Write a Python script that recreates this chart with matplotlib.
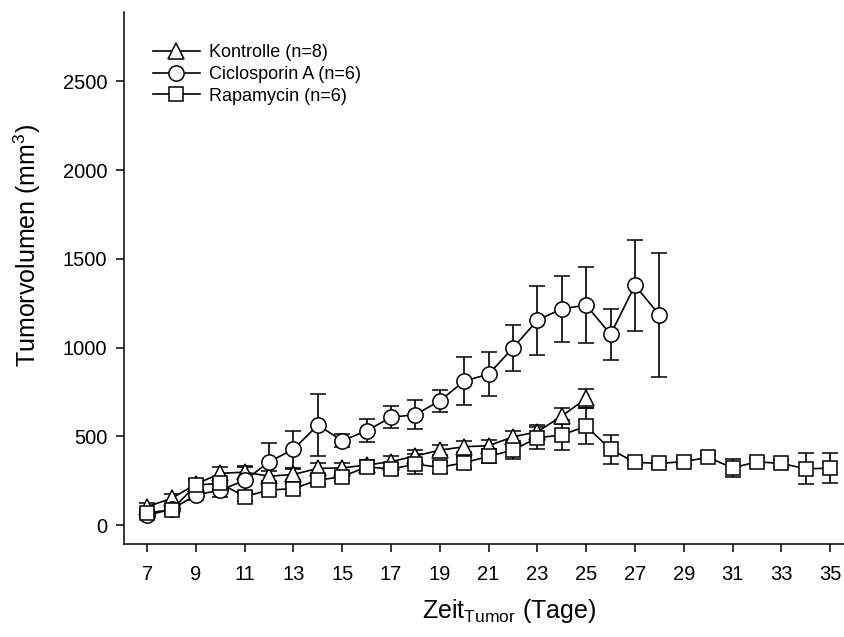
import numpy as np
import matplotlib
matplotlib.use("Agg")
import matplotlib.pyplot as plt

plt.rcParams['font.family'] = ['Liberation Sans', 'DejaVu Sans']

# --- Daten ---
tage_kontrolle = list(range(7, 26))
kontrolle = [103, 150, 230, 291, 298, 275, 285, 319, 322, 338, 357, 389, 422, 441, 447, 497, 525, 614, 713]
kontrolle_err = [20, 25, 30, 38, 35, 30, 30, 32, 30, 30, 30, 35, 30, 30, 30, 35, 40, 45, 55]

tage_csa = list(range(7, 29))
csa = [56, 88, 169, 197, 251, 356, 427, 563, 475, 531, 607, 622, 700, 811, 850, 998,
       1154, 1218, 1239, 1074, 1350, 1184]
csa_err = [15, 20, 30, 40, 75, 107, 103, 175, 36, 66, 62, 82, 63, 135, 125, 130,
           195, 185, 215, 145, 255, 350]

tage_rapa = list(range(7, 36))
rapa = [70, 84, 225, 235, 160, 197, 205, 253, 272, 328, 315, 343, 325, 351, 387, 422,
        492, 507, 557, 426, 353, 347, 357, 381, 322, 356, 347, 317, 320]
rapa_err = [15, 20, 25, 30, 25, 25, 25, 30, 25, 25, 30, 55, 30, 30, 40, 50,
            62, 85, 100, 83, 15, 15, 15, 15, 52, 20, 20, 88, 86]

labels = ['Kontrolle (n=8)', 'Ciclosporin A (n=6)', 'Rapamycin (n=6)']
x_ticks = list(range(7, 36, 2))
y_ticks = [0, 500, 1000, 1500, 2000, 2500]

# --- Figur ---
fig = plt.figure(figsize=(8.45, 6.37), dpi=100)
ax = fig.add_axes([0.1467, 0.146, 0.853, 0.835])

serien = [
    (tage_kontrolle, kontrolle, kontrolle_err, '^', 11.5),
    (tage_csa, csa, csa_err, 'o', 11),
    (tage_rapa, rapa, rapa_err, 's', 9.5),
]
handles = []
for (x, y, err, marker, ms), lab in zip(serien, labels):
    h = ax.errorbar(x, y, yerr=err, fmt='-', marker=marker, color='black',
                    mfc='white', mec='black', ms=ms, mew=1.1, lw=1.2,
                    elinewidth=1.2, capsize=5.5, capthick=1.2, label=lab)
    handles.append(h[0])

ax.set_xlim(6.05, 35.6)
ax.set_ylim(-107, 2890)
ax.set_xticks(x_ticks)
ax.set_yticks(y_ticks)
ax.spines['top'].set_visible(False)
ax.spines['right'].set_visible(False)
ax.spines['left'].set_linewidth(1.1)
ax.spines['bottom'].set_linewidth(1.1)
ax.tick_params(axis='x', direction='out', length=6, width=1.1, pad=9, labelsize=14.5)
ax.tick_params(axis='y', direction='out', length=6, width=1.1, pad=6, labelsize=14.5)

ax.set_xlabel('Zeit$_{\\mathregular{Tumor}}$ (Tage)', fontsize=18)
ax.set_ylabel('Tumorvolumen (mm$^{\\mathregular{3}}$)', fontsize=18)
ax.xaxis.set_label_coords(0.534, -0.1)
ax.yaxis.set_label_coords(-0.113, 0.562)

ax.legend(handles, labels, loc='upper left', bbox_to_anchor=(0.04, 0.94),
          frameon=False, fontsize=13, numpoints=1, handlelength=2.6,
          handletextpad=0.5, labelspacing=0.27, borderaxespad=0, borderpad=0)

fig.savefig('out.png', dpi=100)
